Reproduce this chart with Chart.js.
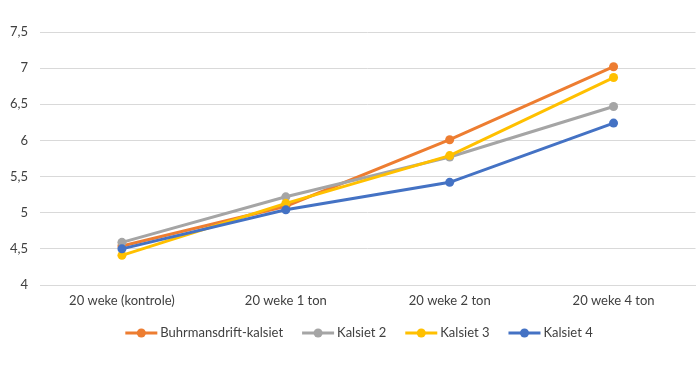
<!DOCTYPE html>
<html><head><meta charset="utf-8">
<script src="https://cdn.jsdelivr.net/npm/chart.js@4/dist/chart.umd.min.js"></script>
<style>html,body{margin:0;padding:0;background:#fff}#w{width:700px;height:374px}</style>
</head><body><div id="w"><canvas id="c"></canvas></div>
<script>
const categories = ["20 weke (kontrole)", "20 weke 1 ton", "20 weke 2 ton", "20 weke 4 ton"];
const seriesNames = ["Buhrmansdrift-kalsiet", "Kalsiet 2", "Kalsiet 3", "Kalsiet 4"];
const buhrmansdrift = [4.54, 5.09, 6.01, 7.02];
const kalsiet2 = [4.59, 5.22, 5.77, 6.47];
const kalsiet3 = [4.41, 5.13, 5.79, 6.87];
const kalsiet4 = [4.50, 5.04, 5.42, 6.24];
const yTicks = [4, 4.5, 5, 5.5, 6, 6.5, 7, 7.5];
const colors = ["#ED7D31", "#A5A5A5", "#FFC000", "#4472C4"];
const FONT = "Lato, 'Open Sans', sans-serif";
const TXT = '#404040';

const allData = [buhrmansdrift, kalsiet2, kalsiet3, kalsiet4];
const datasets = allData.map((d,i)=>({
  label: seriesNames[i], data: d, borderColor: colors[i], backgroundColor: colors[i],
  borderWidth: 3, pointRadius: 4.5, pointBorderWidth: 0, pointBackgroundColor: colors[i],
  tension: 0, fill: false
})).reverse();

const legendPlugin = {
  id: 'lineLegend',
  afterDraw(chart){
    const ctx = chart.ctx;
    ctx.save();
    ctx.font = '13px ' + FONT;
    const mw = 32, gap = 3, itemGap = 19;
    const widths = seriesNames.map(s => mw + gap + ctx.measureText(s).width);
    const total = widths.reduce((a,b)=>a+b,0) + itemGap*(seriesNames.length-1);
    let x = 359 - total/2;
    const y = 333;
    seriesNames.forEach((s,i)=>{
      ctx.strokeStyle = colors[i]; ctx.lineWidth = 3;
      ctx.beginPath(); ctx.moveTo(x, y); ctx.lineTo(x+mw, y); ctx.stroke();
      ctx.fillStyle = colors[i]; ctx.beginPath(); ctx.arc(x+mw/2, y, 4.5, 0, Math.PI*2); ctx.fill();
      ctx.fillStyle = TXT; ctx.textBaseline = 'middle'; ctx.textAlign = 'left';
      ctx.fillText(s, x+mw+gap, y);
      x += widths[i] + itemGap;
    });
    ctx.restore();
  }
};

new Chart(document.getElementById('c'), {
  type: 'line',
  data: { labels: categories, datasets },
  plugins: [legendPlugin],
  options: {
    responsive: true, maintainAspectRatio: false, animation: false,
    layout: { padding: { top: 32, right: 4, bottom: 59, left: 0 } },
    plugins: { tooltip: { enabled: false }, legend: { display: false } },
    scales: {
      x: {
        offset: true,
        grid: { display: false, drawTicks: false, offset: true },
        border: { display: true, color: '#D9D9D9', width: 1 },
        ticks: { color: TXT, font: { family: FONT, size: 13 }, padding: 8, maxRotation: 0 },
        afterFit(a){ a.height = 30; }
      },
      y: {
        min: 4, max: 7.5,
        grid: { color: '#D9D9D9', lineWidth: 1, drawTicks: false },
        border: { display: false },
        afterBuildTicks(a){ a.ticks = yTicks.map(v=>({value:v})); },
        ticks: { color: TXT, font: { family: FONT, size: 13 }, padding: 12,
          callback: v => String(v).replace('.', ',') },
        afterFit(a){ a.width = 40; }
      }
    }
  }
});
</script></body></html>
